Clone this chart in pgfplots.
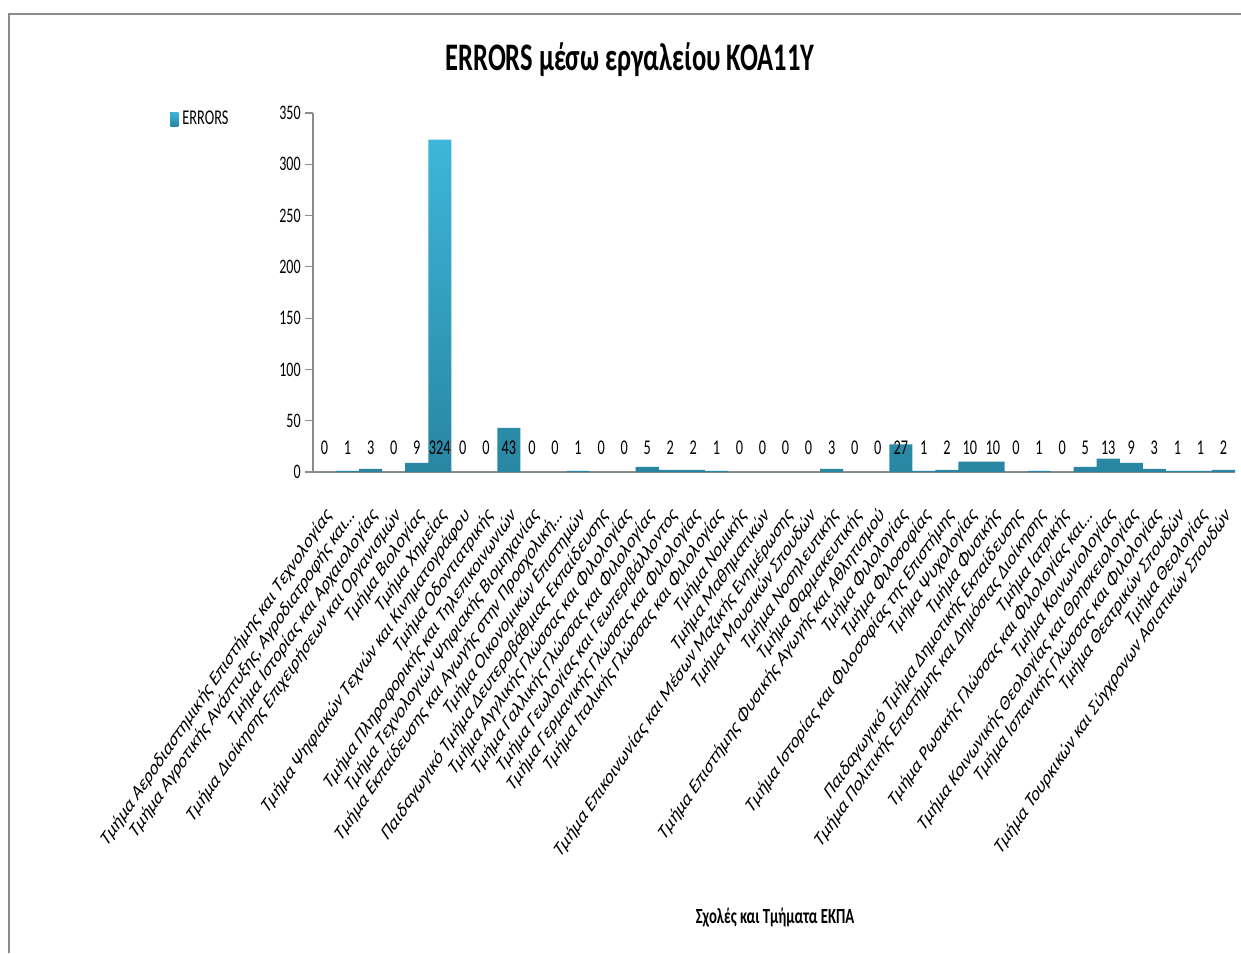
\documentclass[border=0pt]{standalone}
\usepackage{fontspec}
\setmainfont[FakeStretch=0.68]{Carlito}
\newfontfamily\labelfont{Carlito}
\usepackage{pgfplots}
\pgfplotsset{compat=1.18}
\usepackage{pgfplotstable}
\definecolor{barTop}{HTML}{3DB6DA}
\definecolor{barBot}{HTML}{2886A2}
\definecolor{axGray}{HTML}{8C8C8C}
\pgfplotstableread{
x v
1 0
2 1
3 3
4 0
5 9
6 324
7 0
8 0
9 43
10 0
11 0
12 1
13 0
14 0
15 5
16 2
17 2
18 1
19 0
20 0
21 0
22 0
23 3
24 0
25 0
26 27
27 1
28 2
29 10
30 10
31 0
32 1
33 0
34 5
35 13
36 9
37 3
38 1
39 1
40 2
}\errtable
\begin{document}
\begin{tikzpicture}
\useasboundingbox (0,0) rectangle (620.5pt,476.5pt);
\draw[axGray, line width=1pt] (4.5pt,0) -- (4.5pt,469.5pt) -- (620.5pt,469.5pt);
\node[font=\fontsize{19.5}{22}\selectfont\bfseries] at (315pt,446.5pt) {ERRORS μέσω εργαλείου ΚΟΑ11Υ};
\node[font=\fontsize{10.8}{12}\selectfont\bfseries] at (387.5pt,17.5pt) {Σχολές και Τμήματα ΕΚΠΑ};
\begin{axis}[
  at={(156.5pt,240.5pt)}, anchor=south west,
  scale only axis, width=461pt, height=179.5pt,
  xmin=0.5, xmax=40.5, ymin=0, ymax=350,
  axis x line=bottom, axis y line=left,
  axis line style={-, axGray, line width=0.6pt},
  ytick={0,50,100,150,200,250,300,350},
  ytick style={axGray, line width=0.6pt},
  tick align=outside, major tick length=4pt,
  xtick={1,2,3,4,5,6,7,8,9,10,11,12,13,14,15,16,17,18,19,20,21,22,23,24,25,26,27,28,29,30,31,32,33,34,35,36,37,38,39,40},
  xtick style={draw=none},
  /pgf/number format/assume math mode=true,
  yticklabel style={font=\fontsize{10.3}{12}\selectfont, inner sep=2pt},
  xticklabel shift=11pt,
  xticklabel style={font=\labelfont\fontsize{11}{13}\selectfont, xscale=0.68, rotate=45, anchor=north east, inner sep=1pt},
  xticklabels={
    Τμήμα Αεροδιαστημικής Επιστήμης και Τεχνολογίας,
    {Τμήμα Αγροτικής Ανάπτυξης, Αγροδιατροφής και…},
    Τμήμα Ιστορίας και Αρχαιολογίας,
    Τμήμα Διοίκησης Επιχειρήσεων και Οργανισμών,
    Τμήμα Βιολογίας,
    Τμήμα Χημείας,
    Τμήμα Ψηφιακών Τεχνών και Κινηματογράφου,
    Τμήμα Οδοντιατρικής,
    Τμήμα Πληροφορικής και Τηλεπικοινωνιών,
    Τμήμα Τεχνολογιών Ψηφιακής Βιομηχανίας,
    {Τμήμα Εκπαίδευσης και Αγωγής στην Προσχολική…},
    Τμήμα Οικονομικών Επιστημών,
    Παιδαγωγικό Τμήμα Δευτεροβάθμιας Εκπαίδευσης,
    Τμήμα Αγγλικής Γλώσσας και Φιλολογίας,
    Τμήμα Γαλλικής Γλώσσας και Φιλολογίας,
    Τμήμα Γεωλογίας και Γεωπεριβάλλοντος,
    Τμήμα Γερμανικής Γλώσσας και Φιλολογίας,
    Τμήμα Ιταλικής Γλώσσας και Φιλολογίας,
    Τμήμα Νομικής,
    Τμήμα Μαθηματικών,
    Τμήμα Επικοινωνίας και Μέσων Μαζικής Ενημέρωσης,
    Τμήμα Μουσικών Σπουδών,
    Τμήμα Νοσηλευτικής,
    Τμήμα Φαρμακευτικής,
    Τμήμα Επιστήμης Φυσικής Αγωγής και Αθλητισμού,
    Τμήμα Φιλολογίας,
    Τμήμα Φιλοσοφίας,
    Τμήμα Ιστορίας και Φιλοσοφίας της Επιστήμης,
    Τμήμα Ψυχολογίας,
    Τμήμα Φυσικής,
    Παιδαγωγικό Τμήμα Δημοτικής Εκπαίδευσης,
    Τμήμα Πολιτικής Επιστήμης και Δημόσιας Διοίκησης,
    Τμήμα Ιατρικής,
    {Τμήμα Ρωσικής Γλώσσας και Φιλολογίας και…},
    Τμήμα Κοινωνιολογίας,
    Τμήμα Κοινωνικής Θεολογίας και Θρησκειολογίας,
    Τμήμα Ισπανικής Γλώσσας και Φιλολογίας,
    Τμήμα Θεατρικών Σπουδών,
    Τμήμα Θεολογίας,
    Τμήμα Τουρκικών και Σύγχρονων Ασιατικών Σπουδών
  },
  legend style={at={(-0.155,0.983)}, anchor=west, draw=none, fill=none,
    font=\fontsize{10.5}{12}\selectfont, inner sep=0pt},
  legend image code/.code={\fill[top color=barTop, bottom color=barBot] (0pt,-3.5pt) rectangle (4pt,3.5pt);},
]
\addplot[ybar, bar width=1, draw=none, top color=barTop, bottom color=barBot] table[x=x, y=v] {\errtable};
\addlegendentry{ERRORS}
\addplot[draw=none, mark=none, forget plot,
  nodes near coords, point meta=explicit,
  every node near coord/.append style={anchor=center, yshift=12pt, font=\fontsize{10.5}{12}\selectfont, text=black}]
  table[x=x, y expr=0, meta=v] {\errtable};
\end{axis}
\end{tikzpicture}
\end{document}
